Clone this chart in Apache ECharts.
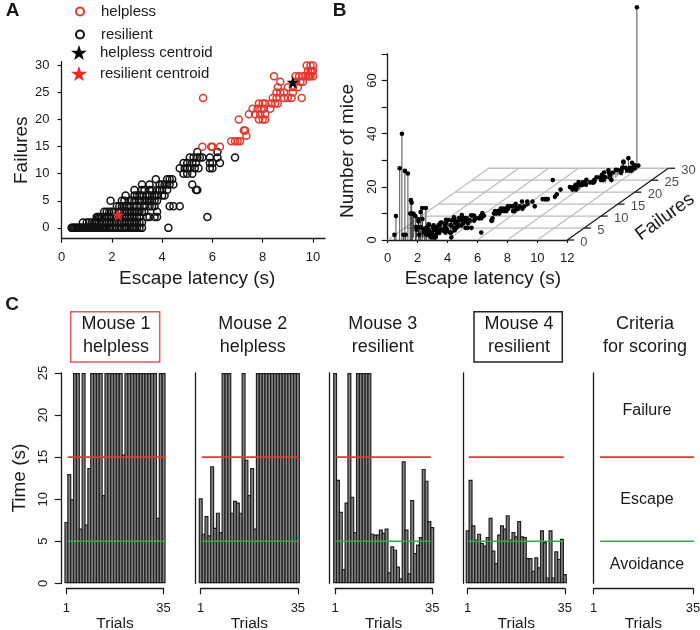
<!DOCTYPE html>
<html><head><meta charset="utf-8">
<style>html,body{margin:0;padding:0;background:#fff}#c{width:700px;height:630px}</style>
<script src="https://cdn.jsdelivr.net/npm/echarts@6/dist/echarts.min.js"></script>
</head><body><div id="c"></div>
<script>
// ---------- Panel A data ----------
const helplessPoints = [[5.63,24],[5.6,15],[5.95,15],[6.0,15],[6.3,15],[6.75,16],[6.9,16],[7.0,16],[7.1,16],[7.05,20],[7.25,18],[7.3,18],[7.35,17],
[7.45,21],[7.6,22],[7.7,21],[7.8,22],[7.85,20],[7.9,21],[7.85,23],[7.95,22],[8.0,20],[8.0,23],[8.1,21],[8.05,22],[8.1,23],[8.1,20],[8.3,22],[8.35,23],[8.4,24],[8.45,28],[8.5,23],[8.55,24],[8.55,25],[8.6,23],[8.6,26],[8.7,27],[8.7,25],[8.85,24],[8.85,25],[9.0,26],[9.0,24],[9.15,24],[9.2,26],[9.2,25],[9.3,27],[9.3,28],[9.4,26],[9.45,28],[9.5,27],[9.55,24],[9.6,27],[9.6,28],[9.7,28],[9.8,29],[9.75,30],[9.85,28],[9.9,30],[9.9,29],[9.95,29],[10,30],[10,28],[9.8,28],[10,29],[9.9,28]];
const resilientRows = [
[0.4,0.45,0.5,0.55,0.6,0.65,0.7,0.75,0.8,0.85,0.9,0.95,1,1.05,1.1,1.15,1.2,1.25,1.3,1.35,1.4,1.45,1.5,1.55,1.6,1.65,1.7,1.75,1.8,1.9,2,2.1,2.2,2.3,2.4,2.5,2.55,2.6,2.7,2.8,2.85,2.9,3,3.1,3.2,4.25],
[0.85,1.0,1.1,1.2,1.3,1.35,1.4,1.5,1.6,1.7,1.8,1.9,2.0,2.1,2.2,2.3,2.4,2.5,2.6,2.7,2.8,2.9,3.0,3.1,3.2],
[1.4,1.45,1.5,1.55,1.6,1.7,1.8,1.9,2.0,2.1,2.2,2.3,2.4,2.5,2.6,2.7,2.8,2.9,3.0,3.1,3.4,3.5,3.7,3.8,5.8],
[1.7,1.8,1.9,2.0,2.1,2.3,2.4,2.5,2.6,2.7,2.8,2.9,3.0,3.1,3.2,3.3,3.8],
[2.2,2.3,2.4,2.5,2.6,2.7,2.9,3.0,3.1,3.3,3.5,3.6,3.7,4.3,4.45,4.7],
[1.95,2.4,2.5,2.7,2.8,2.9,3.1,3.2,3.3,3.4,3.5,3.6,3.7,3.8],
[2.55,2.9,3.0,3.1,3.2,3.4,3.5,3.6,3.7,3.8,4.0,4.1],
[2.9,3.2,3.3,3.5,3.6,3.8,3.9,4.0,4.2,5.35,5.4],
[3.2,3.5,3.9,4.0,4.1,4.2,4.3,4.45,5.2],
[3.75,4.2,4.3,4.4],
[4.85,5.0,5.2],
[4.7,4.9,5.0,5.1,5.3,5.45,5.9,6.0],
[4.85,5.0,5.2,5.35,5.9,6.0,6.3],
[5.1,5.25,5.4,5.5,5.6,5.9,6.2,6.9],
[5.4,6.2]
];
const helplessCentroid = [[9.2,26.9]];
const resilientCentroid = [[2.25,2.4]];
const xTicksA = [0,2,4,6,8,10];
const yTicksA = [0,5,10,15,20,25,30];

// ---------- Panel B data: [latency, failures, mice] ----------
const miceCounts = [
[0.45,0,2],[0.55,0,9],[0.8,0,27],[0.95,0,40],[1.05,0,2],[1.15,0,26],[1.2,0,2],[1.35,0,25],[1.5,0,10],[1.55,0,15],[1.6,0,14],[1.65,0,10],[1.85,0,9],[1.9,0,5],[2.05,0,7],[2.1,0,2],[2.2,0,10.5],[2.3,0,12],[2.45,0,3],[2.55,0,12],[2.6,0,2],[2.75,0,3],[2.9,0,1],[3,0,2],[3.1,0,1],[3.2,0,1],[4.25,0,1],
[1.5,1,9],[1.7,1,3],[1.9,1,4],[2.1,1,7],[2.2,1,3],[2.4,1,2],[2.5,1,5],[2.6,1,1],[2.7,1,2],[2.8,1,4],[3,1,1],[3.1,1,2],
[1.6,2,6],[1.8,2,3],[2,2,1],[2.2,2,2],[2.3,2,2],[2.5,2,1],[2.6,2,3],[2.8,2,2],[2.9,2,1],[3,2,1],[3.1,2,2],[3.4,2,1],[3.5,2,2],[3.7,2,1],[3.8,2,1],[5.8,2,1],
[1.9,3,2],[2.1,3,3],[2.4,3,1],[2.6,3,2],[2.8,3,3],[3,3,1],[3.2,3,2],[3.3,3,1],[3.8,3,1],
[2.3,4,1],[2.5,4,2],[2.7,4,3],[2.9,4,1],[3,4,4],[3.3,4,2],[3.5,4,1],[3.6,4,3],[3.7,4,1],[4.3,4,1],[4.45,4,1],[4.7,4,1],
[1.95,5,1],[2.4,5,2],[2.7,5,1],[2.9,5,3],[3.1,5,1],[3.3,5,4],[3.4,5,2],[3.6,5,1],[3.7,5,3],[3.8,5,1],
[2.55,6,1],[2.9,6,2],[3.1,6,3],[3.2,6,1],[3.4,6,2],[3.6,6,4],[3.7,6,1],[3.8,6,2],[4,6,1],[4.1,6,2],
[2.9,7,1],[3.2,7,2],[3.5,7,1],[3.6,7,2],[3.9,7,1],[4,7,3],[4.2,7,1],[5.35,7,1],[5.4,7,1],
[3.2,8,1],[3.5,8,1],[3.9,8,2],[4.1,8,1],[4.3,8,1],[4.45,8,1],[5.2,8,1],
[3.75,9,1],[4.2,9,1],[4.3,9,2],[4.4,9,1],
[4.85,10,1],[5,10,1],[5.2,10,1],
[4.7,11,1],[4.9,11,1],[5,11,1],[5.1,11,1],[5.3,11,1],[5.45,11,1],[5.9,11,1],[6,11,1],
[4.85,12,1],[5,12,1],[5.2,12,1],[5.35,12,1],[5.9,12,1],[6,12,1],[6.3,12,1],
[5.1,13,1],[5.25,13,1],[5.4,13,1],[5.5,13,1],[5.6,13,1],[5.9,13,1],[6.2,13,1],[6.9,13,1],
[5.4,14,1],[6.2,14,1],[5.6,15,1],[5.95,15,1],[6.3,15,1],
[6.75,16,1],[6.9,16,1],[7,16,1],[7.1,16,1],[7.35,17,1],[7.25,18,1],[7.05,20,1],
[7.85,20,1],[8,20,2],[8.1,20,1],[7.45,21,1],[7.7,21,1],[7.9,21,1],[8.1,21,2],[7.6,22,1],[7.8,22,2],[7.95,22,1],[8.05,22,1],[8.3,22,1],
[5.63,24,1],[7.85,23,1],[8,23,1],[8.1,23,2],[8.35,23,1],[8.5,23,1],[8.6,23,1],[8.4,24,1],[8.55,24,2],[8.85,24,1],[9,24,1],[9.15,24,2],[9.55,24,1],
[8.55,25,1],[8.7,25,2],[8.85,25,1],[9.2,25,1],[8.6,26,2],[9,26,1],[9.2,26,2],[9.4,26,3],[8.7,27,1],[9.3,27,2],[9.5,27,1],[9.6,27,3],
[8.45,28,1],[9.3,28,1],[9.45,28,4],[9.6,28,2],[9.7,28,1],[9.85,28,1],[9.9,28,2],[10,28,1],
[9.8,29,3],[9.9,29,1],[9.95,29,2],[10,29,1],[9.33,30,3.8],[9.75,30,1],[9,30,2.5],[9.9,30,60.6],[10,30,1]
];
const latencyTicksB = [0,2,4,6,8,10,12];
const failureTicksB = [0,5,10,15,20,25,30];
const miceTicks = [0,10,20,30,40,50,60,70];
const miceLabels = [0,20,40,60];

// ---------- Panel C data ----------
const mouse1 = [7.3,13,10,25,25,6.5,25,7,13.7,25,25,25,25,10.5,25,25,25,25,25,25,15.3,25,25,25,25,25,25,25,25,25,25,25,7.8,25,25];
const mouse2 = [10.1,5.9,8,5.7,13.9,6.6,8.4,6.1,25,25,25,8.4,9.8,9.6,8.4,25,14.7,10.5,13.7,6.5,25,25,25,25,25,25,25,25,25,25,25,25,25,25,25];
const mouse3 = [25,12.3,8.5,1.7,9.6,25,10.3,6.1,25,25,25,25,25,5.9,5.8,5.8,6.4,6,6.5,1.3,4.4,4,2,0.6,14.5,6.4,1.2,9.9,3.6,4.6,5.5,13.6,12.2,7.4,6.7];
const mouse4 = [6.3,12.3,6.9,5.2,5.9,4.8,4.5,5.5,7.8,3.9,2.4,5.8,6.9,6.5,8.1,5.2,6.1,5.6,7.4,5.6,5.5,3,3,1.5,3.1,1.9,6.3,4.9,0.7,6.3,0.7,3.8,2.9,5.3,1.1];
const failureThreshold = 15;
const avoidanceThreshold = 5;
const timeTicks = [0,5,10,15,20,25];
const trialTicks = [1,35];

// ---------- styling ----------
const FONT = '"Liberation Sans", Arial, sans-serif';
const INK = '#1a1a1a', RED = '#e5372e', GREEN = '#35a847', GREY = '#bdbdbd';
const STAR = 'path://M50 0 L61.8 35.1 L98.9 35.1 L68.9 57.2 L79.4 92 L50 71 L20.6 92 L31.1 57.2 L1.1 35.1 L38.2 35.1 Z';
const axisLine = {show:true, onZero:false, lineStyle:{color:INK,width:1.3}};
const tick = (len,vals)=>({show:true,length:len,customValues:vals,lineStyle:{color:INK,width:1.2}});
const label = (size,vals,extra)=>Object.assign({show:true,fontFamily:FONT,fontSize:size,color:INK,customValues:vals},extra||{});
const nameStyle = (size,extra)=>Object.assign({fontFamily:FONT,fontSize:size,color:INK},extra||{});

const grids = [], xAxes = [], yAxes = [], series = [];

// Panel A
grids.push({left:61.5,top:61.7,width:263.5,height:177,outerBoundsMode:'none'});
xAxes.push({gridIndex:0,type:'value',min:0,max:10.477,axisLine,splitLine:{show:false},
  axisTick:tick(4,xTicksA),axisLabel:label(13,xTicksA,{margin:12}),
  name:'Escape latency (s)',nameLocation:'middle',nameGap:31,nameTextStyle:nameStyle(19,{padding:[0,0,0,8]})});
yAxes.push({gridIndex:0,type:'value',min:-2,max:30.7,axisLine,splitLine:{show:false},
  axisTick:tick(4,yTicksA),axisLabel:label(13,yTicksA,{margin:12}),
  name:'Failures',nameLocation:'middle',nameGap:30,nameTextStyle:nameStyle(19)});
const resilientPoints = resilientRows.flatMap((row,f)=>row.map(x=>[x,f]));
const hollow = (name,data,color,z)=>({name,type:'scatter',xAxisIndex:0,yAxisIndex:0,data,symbol:'circle',symbolSize:7,z,
  itemStyle:{color:'rgba(255,255,255,0)',borderColor:color,borderWidth:1.5,opacity:1}});
const star = (name,data,color,z)=>({name,type:'scatter',xAxisIndex:0,yAxisIndex:0,data,symbol:STAR,symbolSize:12.5,z,itemStyle:{color,opacity:1}});
series.push(hollow('resilient',resilientPoints,'#111',2));
series.push(hollow('helpless',helplessPoints,RED,3));
series.push(star('helpless centroid',helplessCentroid,'#000',4));
series.push(star('resilient centroid',resilientCentroid,'#ee2a24',5));

// Panel B: floor plane skewed into the two-axis plot
const FX = 0.225, FY = 0.9;
const project = (lat,f,n)=>[lat+f*FX, (n||0)+f*FY];
grids.push({left:387.7,top:54,width:179.6,height:186,outerBoundsMode:'none'});
xAxes.push({gridIndex:1,type:'value',min:0,max:12,axisLine,splitLine:{show:false},
  axisTick:tick(3,latencyTicksB),axisLabel:label(13,latencyTicksB,{margin:12}),
  name:'Escape latency (s)',nameLocation:'middle',nameGap:29,nameTextStyle:nameStyle(19,{padding:[0,0,0,11]})});
yAxes.push({gridIndex:1,type:'value',min:0,max:70,axisLine,splitLine:{show:false},
  axisTick:tick(6,miceTicks),axisLabel:label(13,miceLabels,{rotate:90,margin:9}),
  name:'Number of mice',nameLocation:'middle',nameGap:30,nameTextStyle:nameStyle(19,{padding:[0,8,0,0]})});
const segmentSeries = (data,color,width,z)=>({type:'custom',xAxisIndex:1,yAxisIndex:1,z,silent:true,data,
  encode:{x:[0,2],y:[1,3]},
  renderItem:(p,api)=>{const a=api.coord([api.value(0),api.value(1)]),b=api.coord([api.value(2),api.value(3)]);
    return {type:'line',shape:{x1:a[0],y1:a[1],x2:b[0],y2:b[1]},style:{stroke:color,lineWidth:width}};}});
const floorLines = [];
latencyTicksB.slice(0).forEach(l=>{ if(l<12) floorLines.push([...project(l,0),...project(l,30)]); });
failureTicksB.slice(1).forEach(f=>floorLines.push([...project(0,f),...project(12,f)]));
series.push(segmentSeries(floorLines,GREY,1.3,1));
const sideAxis = [[...project(12,0),...project(12,30)]];
failureTicksB.forEach(f=>sideAxis.push([...project(12,f),...project(12.45,f)]));
series.push(segmentSeries(sideAxis,INK,1.3,2));
series.push(segmentSeries(miceCounts.map(([l,f,n])=>[...project(l,f),...project(l,f,n)]),'#222',0.8,3));
series.push({type:'scatter',xAxisIndex:1,yAxisIndex:1,clip:false,z:4,symbol:'circle',symbolSize:4.6,
  data:miceCounts.map(([l,f,n])=>project(l,f,n)),itemStyle:{color:'#000',opacity:1}});
series.push({type:'scatter',xAxisIndex:1,yAxisIndex:1,clip:false,z:4,symbolSize:0,silent:true,
  data:failureTicksB.map(f=>({value:project(12,f),name:String(f)})),
  label:{show:true,position:'right',distance:13,offset:[0,2],formatter:'{b}',fontFamily:FONT,fontSize:13,color:INK}});

// Panel C
const panels = [
 {values:mouse1,left:66.43,width:97.14,spine:4.7,ticks:true,line:[1.45,35.5]},
 {values:mouse2,left:200.73,width:97.14,spine:5,line:[1.35,35.4]},
 {values:mouse3,left:335.1,width:97.14,spine:5.8,line:[1.4,34.5]},
 {values:mouse4,left:467.7,width:97.14,spine:4.7,line:[1.35,34.6]},
 {values:null,left:593.7,width:99.3,spine:0,line:[3.16,36.2]}
];
const BAR_BORDER = 1.2;
panels.forEach((p,i)=>{
  const g = i+2;
  grids.push({left:p.left,top:373,width:p.width,height:210.3,outerBoundsMode:'none'});
  xAxes.push({gridIndex:g,type:'value',min:1,max:35,offset:5,axisLine,splitLine:{show:false},
    axisTick:tick(6,trialTicks),axisLabel:label(13,trialTicks,{margin:14}),
    name:'Trials',nameLocation:'middle',nameGap:27,nameTextStyle:nameStyle(15.5)});
  yAxes.push({gridIndex:g,type:'value',min:0,max:25,offset:p.spine,axisLine,splitLine:{show:false},
    axisTick:p.ticks?tick(7,timeTicks):{show:false},
    axisLabel:p.ticks?label(13,timeTicks,{rotate:90,margin:12}):{show:false},
    name:p.ticks?'Time (s)':'',nameLocation:'middle',nameGap:32,nameTextStyle:nameStyle(19)});
  if(p.values) series.push({type:'bar',xAxisIndex:g,yAxisIndex:g,clip:false,barWidth:p.width/34+BAR_BORDER,z:2,
    data:p.values.map((v,k)=>[k+1,v]),itemStyle:{color:'#858585',borderColor:'#1e1e1e',borderWidth:BAR_BORDER}});
  [[failureThreshold,RED],[avoidanceThreshold,GREEN]].forEach(([y,color])=>{
    series.push({type:'line',xAxisIndex:g,yAxisIndex:g,clip:false,z:5,symbol:'none',silent:true,
      data:[[p.line[0],y],[p.line[1],y]],lineStyle:{color,width:1.6}});
  });
});

const text = (t,x,y,size,extra)=>({type:'text',x,y,silent:true,z:20,style:Object.assign({text:t,fontFamily:FONT,fontSize:size,fill:INK,textAlign:'center',textVerticalAlign:'middle'},extra||{})});
const graphic = [
 text('A',12.5,11,19,{fontWeight:'bold'}),
 text('B',339.5,11,19,{fontWeight:'bold'}),
 text('C',12,305,19,{fontWeight:'bold'}),
 {type:'text',x:665,y:217,rotation:36*Math.PI/180,silent:true,z:20,style:{text:'Failures',fontFamily:FONT,fontSize:19,fill:INK,textAlign:'center',textVerticalAlign:'middle'}},
 {type:'rect',silent:true,z:19,shape:{x:70.7,y:311.7,width:89,height:50.3},style:{fill:'none',stroke:'#e8575a',lineWidth:1.5}},
 {type:'rect',silent:true,z:19,shape:{x:474,y:311.7,width:88.3,height:50.3},style:{fill:'none',stroke:'#222',lineWidth:1.5}},
 text('Mouse 1\nhelpless',116,336,18,{lineHeight:23}),
 text('Mouse 2\nhelpless',252.7,336,18,{lineHeight:23}),
 text('Mouse 3\nresilient',382.7,336,18,{lineHeight:23}),
 text('Mouse 4\nresilient',519,336,18,{lineHeight:23}),
 text('Criteria\nfor scoring',645,336,18,{lineHeight:23}),
 text('Failure',647,411,16),
 text('Escape',647,500,16),
 text('Avoidance',647,565,16)
];

const legends = [
 {left:70,top:-1,orient:'vertical',itemWidth:8,itemHeight:8,itemGap:8,selectedMode:false,data:['helpless','resilient'],
  textStyle:{fontFamily:FONT,fontSize:15,color:INK,padding:[0,0,0,12]}},
 {left:66,top:40,orient:'vertical',itemWidth:16,itemHeight:16,itemGap:6,selectedMode:false,data:['helpless centroid','resilient centroid'],
  textStyle:{fontFamily:FONT,fontSize:15,color:INK,padding:[0,0,0,8]}}
];

const chart = echarts.init(document.getElementById('c'),null,{renderer:'canvas'});
chart.setOption({animation:false,backgroundColor:'#fff',grid:grids,xAxis:xAxes,yAxis:yAxes,series,graphic,legend:legends,tooltip:{show:false}});
</script></body></html>
